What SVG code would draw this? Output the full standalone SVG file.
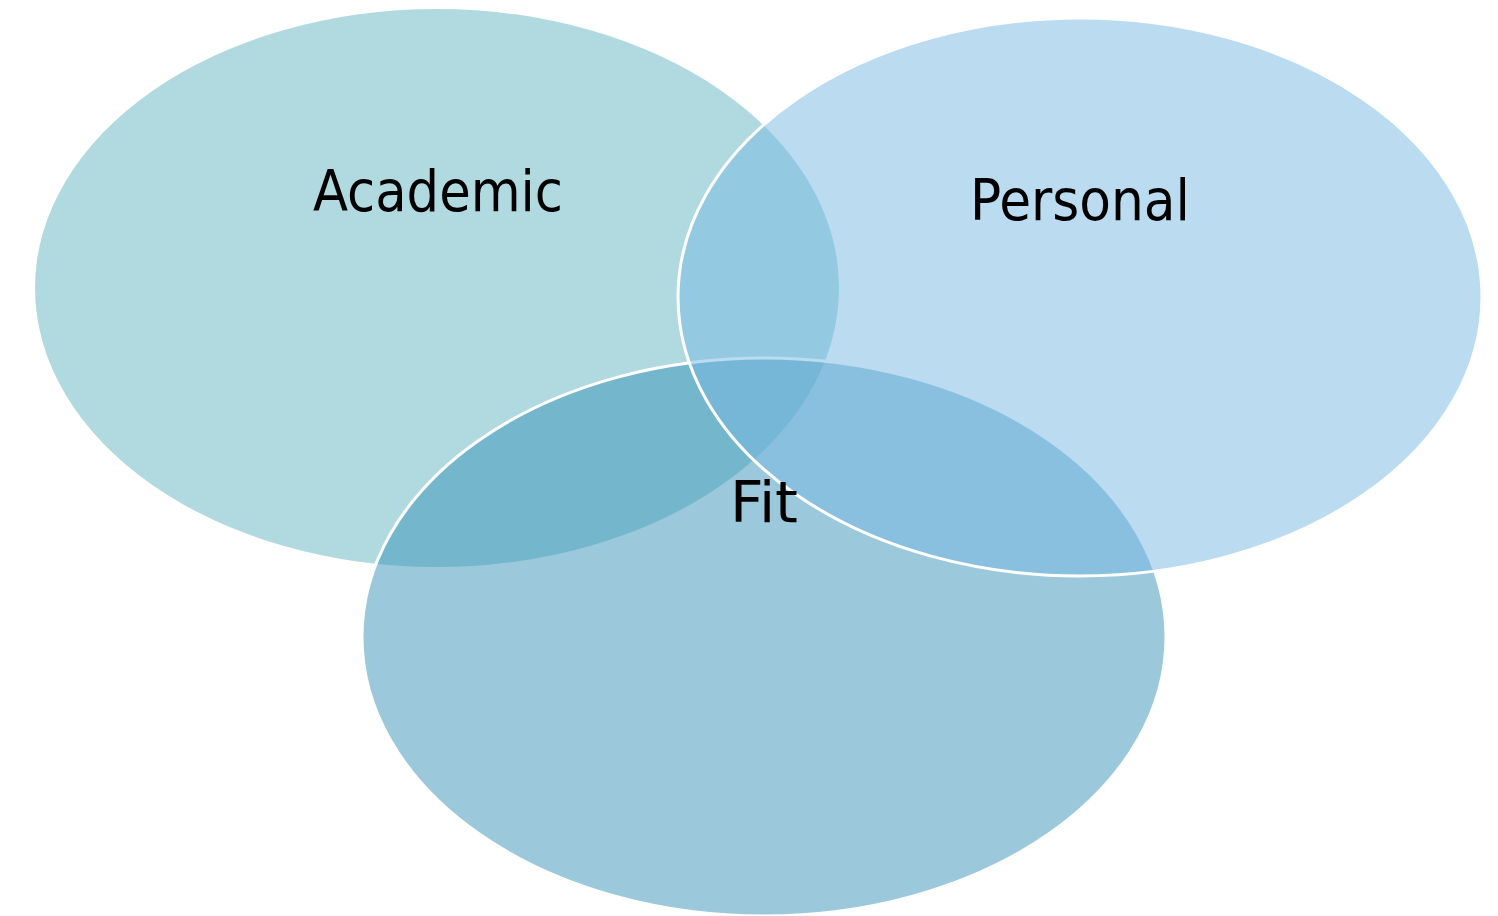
<svg xmlns="http://www.w3.org/2000/svg" width="1498" height="916" viewBox="0 0 1498 916">
<style>
.bg{fill:#ffffff}
.set{fill-opacity:0.5}
.edge{stroke:#ffffff;stroke-width:3}
.lbl{font-family:"DejaVu Sans Condensed","DejaVu Sans",sans-serif;font-size:57px;fill:#000000;text-anchor:middle}
</style>
<rect class="bg" x="0" y="0" width="1498" height="916"/>
<g id="academic">
<ellipse class="set" cx="437" cy="288" rx="402" ry="279" fill="#61B5C1"/>
</g>
<g id="fit">
<ellipse class="set edge" cx="764" cy="637" rx="402" ry="279" fill="#3793B7"/>
</g>
<g id="personal">
<ellipse class="set edge" cx="1080" cy="297" rx="402" ry="279" fill="#77B7E3"/>
</g>
<g id="connectors"></g>
<g id="labels">
<text class="lbl" x="438" y="211" textLength="250" lengthAdjust="spacingAndGlyphs">Academic</text>
<text class="lbl" x="1080" y="220" textLength="220" lengthAdjust="spacingAndGlyphs">Personal</text>
<text class="lbl" x="764" y="522" textLength="68" lengthAdjust="spacingAndGlyphs">Fit</text>
</g>
</svg>
